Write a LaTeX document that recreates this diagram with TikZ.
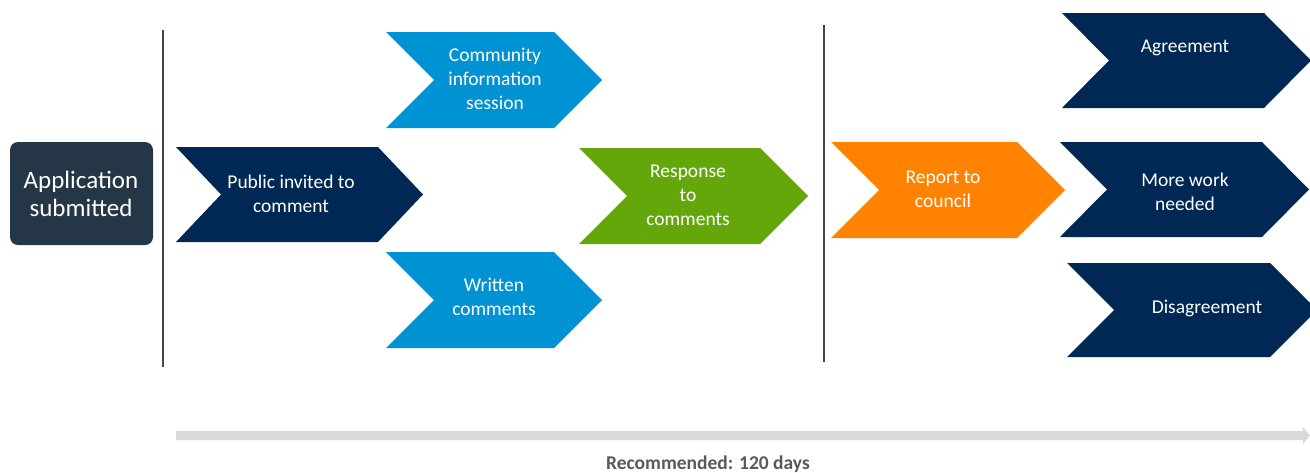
\documentclass[tikz,border=0pt]{standalone}
\usepackage{fontspec}
\setmainfont{Carlito}
\definecolor{navy}{RGB}{0,40,85}
\definecolor{skyb}{RGB}{0,147,211}
\definecolor{leaf}{RGB}{100,167,11}
\definecolor{orng}{RGB}{255,130,0}
\definecolor{slate}{RGB}{37,55,70}
\definecolor{rule}{RGB}{60,70,82}
\definecolor{track}{RGB}{217,217,217}
\definecolor{note}{RGB}{89,89,89}
\newcommand\chevshape[6]{% color, L, T, B, R, d
  \fill[#1] (#2,#3) -- (#5,#3) -- ({#5+#6},{(#3+#4)/2}) -- (#5,#4) -- (#2,#4) -- ({#2+#6},{(#3+#4)/2}) -- cycle;}
\tikzset{
  lbl/.style={text=white, align=center, font=\fontsize{19.5}{24}\selectfont, inner sep=0pt},
  divider/.style={draw=rule, line width=1.3pt},
}
\begin{document}
\begin{tikzpicture}[x=1pt,y=-1pt]
\useasboundingbox (0,0) rectangle (1310,472);
\clip (0,0) rectangle (1310,472);
% application box
\fill[slate, rounded corners=8pt] (10,142) rectangle (153,245);
\node[lbl, font=\fontsize{25}{28}\selectfont] (app) at (81,194) {Application\\submitted};
% dividers
\coordinate (d1t) at (163,30); \coordinate (d1b) at (163,367);
\coordinate (d2t) at (824,25); \coordinate (d2b) at (824,362);
\draw[divider] (d1t) -- (d1b);
\draw[divider] (d2t) -- (d2b);
% chevrons
\chevshape{navy}{176}{147}{242}{378}{45}
\node[lbl] (pub) at (291,194) {Public invited to\\comment};
\chevshape{skyb}{386}{32}{128}{554}{48}
\node[lbl] (comm) at (495,79) {Community\\information\\session};
\chevshape{skyb}{386}{252}{348}{554}{48}
\node[lbl] (writ) at (494,297) {Written\\comments};
\chevshape{leaf}{579}{148}{244}{760}{48}
\node[lbl] (resp) at (688,195) {Response\\to\\comments};
\chevshape{orng}{831}{142}{238}{1017}{48}
\node[lbl] (rep) at (943,189) {Report to\\council};
\chevshape{navy}{1062}{13}{108}{1264}{47}
\node[lbl] (agr) at (1185,48) {Agreement};
\chevshape{navy}{1060}{142}{237}{1262}{47}
\node[lbl] (more) at (1185,192) {More work\\needed};
\chevshape{navy}{1067}{263}{357}{1270}{47}
\node[lbl] (dis) at (1207,308) {Disagreement};
% timeline
\fill[track] (176,431) -- (1303,431) -- (1303,427) -- (1310,435.5) -- (1303,444) -- (1303,440) -- (176,440) -- cycle;
\node[anchor=base, text=note, font=\bfseries\fontsize{19.5}{22}\selectfont, inner sep=0pt] (rec) at (708,469) {Recommended: 120 days};
\end{tikzpicture}
\end{document}
